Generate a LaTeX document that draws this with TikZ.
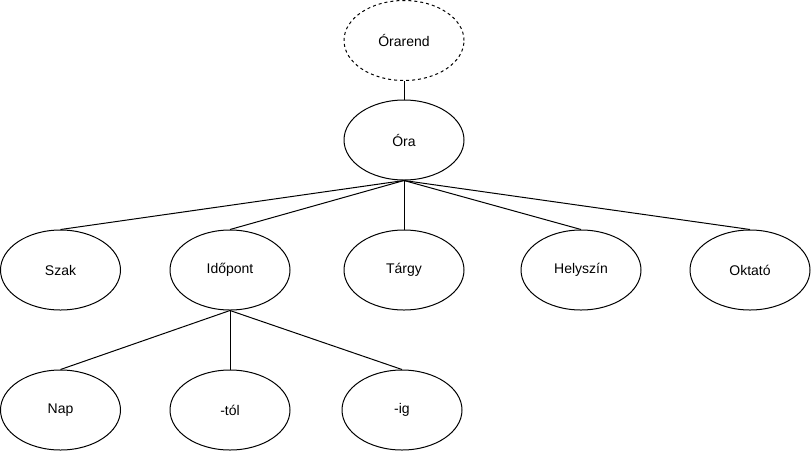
\documentclass[tikz,border=0pt]{standalone}
\usepackage{fontspec}
\setmainfont{Liberation Sans}
\usetikzlibrary{shapes.geometric}
\begin{document}
\begin{tikzpicture}[x=1pt,y=-1pt,
  ent/.style={ellipse,draw=black,line width=1pt,minimum width=120pt,minimum height=80pt,inner sep=0pt,font=\fontsize{14}{16}\selectfont},
  conn/.style={draw=black,line width=1pt}]
\useasboundingbox (0,0) rectangle (811,451);
\node[ent,dash pattern=on 3pt off 3pt] (orarend) at (404,40.5) {Órarend};
\node[ent] (ora) at (404,140) {Óra};
\node[ent] (szak) at (60.5,270) {Szak};
\node[ent] (idopont) at (230,270) {Időpont};
\node[ent] (targy) at (404,270) {Tárgy};
\node[ent] (helyszin) at (581,270) {Helyszín};
\node[ent] (oktato) at (750,270) {Oktató};
\node[ent] (nap) at (60.5,410) {Nap};
\node[ent] (tol) at (230,410) {-tól};
\node[ent] (ig) at (402,410) {-ig};
\draw[conn] (orarend.south) -- (ora.north);
\foreach \c in {szak,idopont,targy,helyszin,oktato}
  \draw[conn] (ora.south) -- (\c.north);
\foreach \c in {nap,tol,ig}
  \draw[conn] (idopont.south) -- (\c.north);
\end{tikzpicture}
\end{document}
